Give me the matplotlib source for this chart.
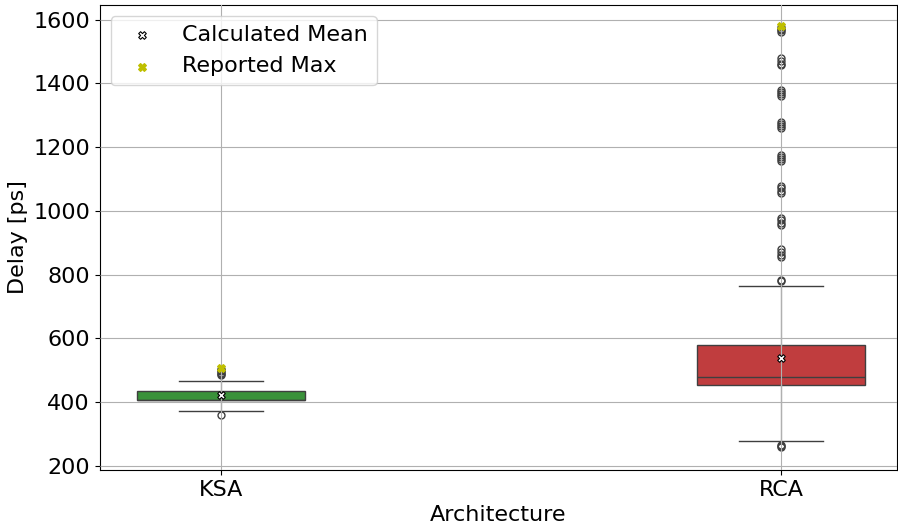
import numpy as np
import matplotlib
matplotlib.use("Agg")
import matplotlib.pyplot as plt

# values
categories = ["KSA", "RCA"]
colors = ["#3a923a", "#c03d3e"]
q1 = [407, 453]
median = [407, 478]
q3 = [435, 580]
whis_lo = [373, 279]
whis_hi = [465, 765]
means = [423, 539]
reported_max = [508, 1580]
fliers_ksa = [360, 484, 488, 492, 496, 500, 504]
fliers_rca = [258, 262, 266, 780, 782,
              856, 862, 870, 880, 956, 962, 970, 978,
              1056, 1062, 1070, 1078, 1156, 1162, 1168, 1176,
              1260, 1266, 1272, 1280, 1360, 1366, 1372, 1378,
              1456, 1462, 1470, 1478, 1560, 1566, 1572, 1578]
fliers = [fliers_ksa, fliers_rca]

plt.rcParams['font.size'] = 16
fig, ax = plt.subplots(figsize=(8.98, 5.25), dpi=100)
fig.subplots_adjust(left=0.111, right=0.999, top=0.99, bottom=0.105)

pos = np.arange(len(categories))
stats = []
for i in range(len(categories)):
    stats.append(dict(med=median[i], q1=q1[i], q3=q3[i], whislo=whis_lo[i],
                      whishi=whis_hi[i], fliers=fliers[i], label=categories[i]))

bp = ax.bxp(stats, positions=pos, widths=0.3, patch_artist=True, showfliers=True,
            boxprops=dict(edgecolor='#3f3f3f', linewidth=1),
            medianprops=dict(color='#3f3f3f', linewidth=1),
            whiskerprops=dict(color='#b0b0b0', linewidth=1),
            capprops=dict(color='#3f3f3f', linewidth=1),
            flierprops=dict(marker='o', markersize=5, markerfacecolor='none',
                            markeredgecolor='#3f3f3f', linewidth=0))
for patch, c in zip(bp['boxes'], colors):
    patch.set_facecolor(c)

ax.scatter(pos, means, marker='X', s=30, c='white', edgecolors='black',
           linewidths=0.8, zorder=4, label='Calculated Mean')
ax.scatter(pos, reported_max, marker='X', s=30, c='y', zorder=4,
           label='Reported Max')

ax.set_axisbelow(False)
ax.grid(True, color='#b0b0b0', linewidth=0.8, zorder=2.5)
ax.set_xlim(-0.216, 1.207)
ax.set_ylim(187, 1645)
ax.set_xticks(pos)
ax.set_xticklabels(categories)
ax.set_xlabel('Architecture')
ax.set_ylabel('Delay [ps]')
ax.legend(loc='upper left')

plt.savefig('out.png')
